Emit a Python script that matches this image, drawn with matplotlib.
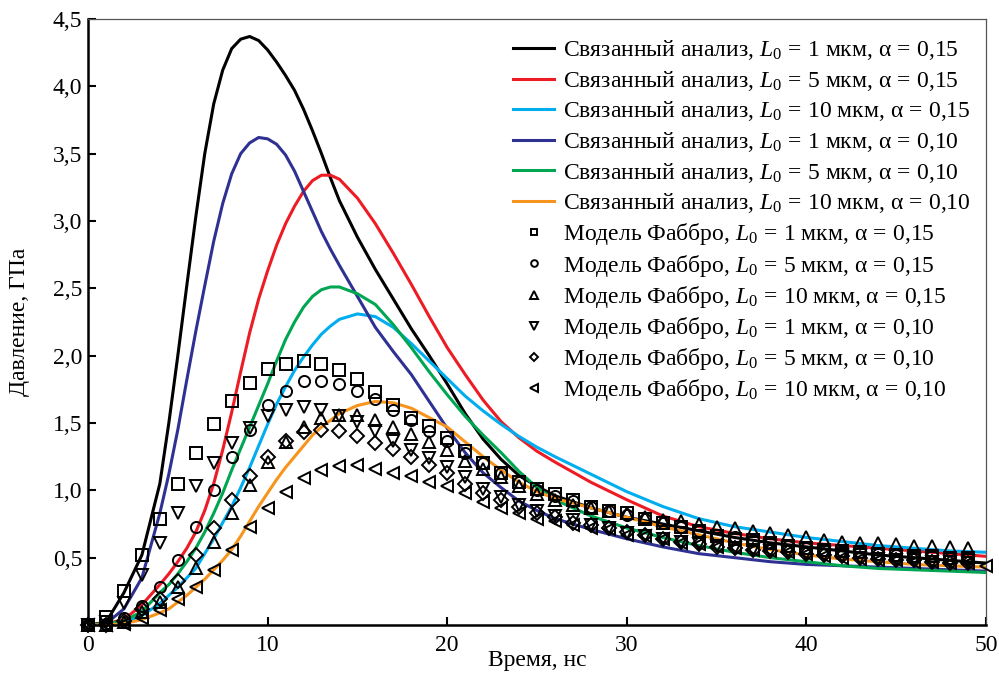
import numpy as np
import matplotlib
matplotlib.use("Agg")
import matplotlib.pyplot as plt
from matplotlib.ticker import FuncFormatter

plt.rcParams['font.family'] = ['Liberation Serif', 'DejaVu Serif']
plt.rcParams['mathtext.fontset'] = 'custom'
plt.rcParams['mathtext.rm'] = 'Liberation Serif'
plt.rcParams['mathtext.it'] = 'Liberation Serif:italic'

# Coupled analysis curves, time in ns
t_line = [0, 1, 2, 3, 4, 4.5, 5, 5.5, 6, 6.5, 7, 7.5, 8, 8.5, 9, 9.5, 10, 10.5,
          11, 11.5, 12, 12.5, 13, 13.5, 14, 15, 16, 17, 18, 19, 20, 21, 22, 23,
          24, 25, 26, 28, 30, 32, 34, 36, 38, 40, 42, 44, 46, 48, 50]

p_l1_a15 = [0, 0.02, 0.24, 0.52, 1.05, 1.50, 2.00, 2.52, 3.03, 3.50, 3.87, 4.12,
            4.28, 4.35, 4.37, 4.34, 4.27, 4.18, 4.08, 3.97, 3.83, 3.67, 3.50, 3.32,
            3.15, 2.88, 2.64, 2.42, 2.20, 2.00, 1.79, 1.57, 1.38, 1.23, 1.11, 1.03,
            0.96, 0.87, 0.80, 0.75, 0.70, 0.65, 0.61, 0.58, 0.55, 0.52, 0.50, 0.48, 0.46]
p_l5_a15 = [0, 0.01, 0.04, 0.15, 0.30, 0.38, 0.47, 0.57, 0.69, 0.85, 1.05, 1.30,
            1.58, 1.88, 2.17, 2.42, 2.63, 2.82, 2.98, 3.11, 3.22, 3.30, 3.34, 3.34,
            3.31, 3.17, 2.98, 2.76, 2.53, 2.29, 2.06, 1.86, 1.67, 1.51, 1.39, 1.29,
            1.21, 1.06, 0.93, 0.81, 0.73, 0.68, 0.64, 0.61, 0.59, 0.57, 0.55, 0.53, 0.51]
p_l10_a15 = [0, 0.00, 0.02, 0.07, 0.16, 0.22, 0.28, 0.35, 0.42, 0.53, 0.64, 0.76,
             0.88, 1.02, 1.17, 1.33, 1.49, 1.64, 1.77, 1.89, 1.99, 2.08, 2.16, 2.22,
             2.27, 2.31, 2.29, 2.21, 2.09, 1.96, 1.83, 1.70, 1.59, 1.49, 1.40, 1.32,
             1.25, 1.12, 0.99, 0.88, 0.79, 0.73, 0.69, 0.65, 0.62, 0.59, 0.57, 0.55, 0.54]
p_l1_a10 = [0, 0.01, 0.12, 0.35, 0.83, 1.12, 1.45, 1.82, 2.18, 2.52, 2.85, 3.13,
            3.35, 3.50, 3.58, 3.62, 3.61, 3.57, 3.49, 3.37, 3.22, 3.07, 2.92, 2.79,
            2.67, 2.44, 2.21, 2.03, 1.86, 1.66, 1.46, 1.28, 1.13, 1.02, 0.92, 0.85,
            0.79, 0.71, 0.64, 0.58, 0.53, 0.50, 0.47, 0.45, 0.44, 0.43, 0.42, 0.41, 0.40]
p_l5_a10 = [0, 0.01, 0.03, 0.10, 0.24, 0.30, 0.38, 0.47, 0.57, 0.69, 0.83, 0.98,
            1.15, 1.31, 1.47, 1.63, 1.79, 1.96, 2.12, 2.25, 2.36, 2.44, 2.49, 2.51,
            2.51, 2.46, 2.38, 2.23, 2.06, 1.88, 1.71, 1.55, 1.41, 1.28, 1.14, 1.02,
            0.93, 0.81, 0.72, 0.65, 0.59, 0.54, 0.50, 0.47, 0.44, 0.42, 0.41, 0.40, 0.39]
p_l10_a10 = [0, 0.00, 0.01, 0.04, 0.09, 0.12, 0.17, 0.22, 0.28, 0.34, 0.41, 0.48,
             0.56, 0.66, 0.77, 0.88, 0.98, 1.08, 1.17, 1.25, 1.33, 1.41, 1.47, 1.52,
             1.57, 1.63, 1.66, 1.65, 1.61, 1.54, 1.47, 1.36, 1.25, 1.15, 1.06, 0.99,
             0.94, 0.87, 0.80, 0.73, 0.67, 0.61, 0.56, 0.52, 0.49, 0.47, 0.45, 0.44, 0.43]

# Fabbro model points, one per ns
f_l1_a15 = [0, 0.06, 0.25, 0.52, 0.79, 1.05, 1.28, 1.49, 1.66, 1.80,
            1.90, 1.94, 1.96, 1.94, 1.89, 1.83, 1.73, 1.63, 1.54, 1.48,
            1.39, 1.29, 1.20, 1.13, 1.06, 1.01, 0.97, 0.93, 0.88, 0.85,
            0.83, 0.79, 0.76, 0.73, 0.70, 0.66, 0.64, 0.63, 0.61, 0.59,
            0.57, 0.56, 0.55, 0.54, 0.53, 0.52, 0.51, 0.51, 0.50, 0.50]
f_l5_a15 = [0, 0.01, 0.05, 0.14, 0.28, 0.48, 0.73, 1.00, 1.25, 1.45,
            1.63, 1.74, 1.81, 1.81, 1.79, 1.74, 1.68, 1.60, 1.52, 1.44,
            1.37, 1.28, 1.20, 1.13, 1.06, 1.00, 0.96, 0.92, 0.88, 0.85,
            0.82, 0.79, 0.76, 0.73, 0.70, 0.67, 0.65, 0.63, 0.61, 0.59,
            0.57, 0.56, 0.55, 0.54, 0.53, 0.52, 0.51, 0.51, 0.50, 0.50]
f_l10_a15 = [0, 0.00, 0.02, 0.10, 0.17, 0.28, 0.42, 0.62, 0.83, 1.04,
             1.21, 1.36, 1.47, 1.54, 1.56, 1.56, 1.52, 1.47, 1.42, 1.36,
             1.30, 1.22, 1.16, 1.10, 1.03, 0.97, 0.93, 0.89, 0.87, 0.85,
             0.83, 0.80, 0.78, 0.77, 0.75, 0.73, 0.72, 0.70, 0.68, 0.67,
             0.65, 0.63, 0.62, 0.61, 0.61, 0.60, 0.59, 0.59, 0.58, 0.57]
f_l1_a10 = [0, 0.02, 0.16, 0.37, 0.61, 0.83, 1.03, 1.20, 1.35, 1.46,
            1.55, 1.60, 1.62, 1.60, 1.55, 1.51, 1.44, 1.37, 1.30, 1.24,
            1.17, 1.10, 1.01, 0.95, 0.89, 0.85, 0.81, 0.78, 0.74, 0.72,
            0.68, 0.66, 0.64, 0.62, 0.60, 0.59, 0.57, 0.56, 0.55, 0.54,
            0.53, 0.52, 0.51, 0.50, 0.49, 0.48, 0.48, 0.47, 0.47, 0.46]
f_l5_a10 = [0, 0.00, 0.03, 0.12, 0.19, 0.33, 0.52, 0.72, 0.93, 1.11,
            1.25, 1.37, 1.43, 1.45, 1.44, 1.40, 1.35, 1.31, 1.25, 1.19,
            1.13, 1.05, 0.98, 0.93, 0.88, 0.83, 0.80, 0.76, 0.74, 0.72,
            0.69, 0.67, 0.64, 0.62, 0.60, 0.58, 0.57, 0.56, 0.55, 0.54,
            0.53, 0.52, 0.51, 0.50, 0.49, 0.48, 0.48, 0.47, 0.46, 0.46]
f_l10_a10 = [0, 0.00, 0.01, 0.05, 0.11, 0.19, 0.28, 0.41, 0.56, 0.73,
             0.87, 0.99, 1.09, 1.15, 1.18, 1.19, 1.16, 1.13, 1.11, 1.06,
             1.03, 0.98, 0.91, 0.87, 0.83, 0.79, 0.77, 0.74, 0.72, 0.71,
             0.67, 0.66, 0.64, 0.61, 0.60, 0.58, 0.57, 0.56, 0.55, 0.54,
             0.53, 0.51, 0.50, 0.49, 0.48, 0.48, 0.47, 0.47, 0.46, 0.46, 0.44]


def case(l0, a):
    return r'$L_0\,{=}\,%s$ мкм, $\mathrm{α}\,{=}\,0{,}%s$' % (l0, a)


lines = [
    (p_l1_a15, '#000000', 'Связанный анализ, ' + case(1, 15)),
    (p_l5_a15, '#ed1c24', 'Связанный анализ, ' + case(5, 15)),
    (p_l10_a15, '#00aeef', 'Связанный анализ, ' + case(10, 15)),
    (p_l1_a10, '#2e3192', 'Связанный анализ, ' + case(1, 10)),
    (p_l5_a10, '#00a651', 'Связанный анализ, ' + case(5, 10)),
    (p_l10_a10, '#f7941d', 'Связанный анализ, ' + case(10, 10)),
]
points = [
    (f_l1_a15, 's', 8, 'Модель Фаббро, ' + case(1, 15)),
    (f_l5_a15, 'o', 8, 'Модель Фаббро, ' + case(5, 15)),
    (f_l10_a15, '^', 9, 'Модель Фаббро, ' + case(10, 15)),
    (f_l1_a10, 'v', 9, 'Модель Фаббро, ' + case(1, 10)),
    (f_l5_a10, 'D', 7, 'Модель Фаббро, ' + case(5, 10)),
    (f_l10_a10, '<', 9, 'Модель Фаббро, ' + case(10, 10)),
]

fig = plt.figure(figsize=(9.99, 6.73), dpi=100)
ax = fig.add_axes([0.0881, 0.0713, 0.8989, 0.9005])

line_handles = []
for vals, color, label in lines:
    h, = ax.plot(t_line, vals, color=color, lw=2.2, label=label, zorder=2)
    line_handles.append(h)

point_handles = []
for vals, marker, ms, label in points:
    h, = ax.plot(np.arange(len(vals)), vals, ls='none', marker=marker, ms=ms,
                 mfc='none', mec='black', mew=1.4, label=label, clip_on=False, zorder=3)
    point_handles.append(h)

ax.set_xlim(0, 50)
ax.set_ylim(0, 4.5)
ax.set_xticks([0, 10, 20, 30, 40, 50])
ax.set_yticks([0.5, 1.0, 1.5, 2.0, 2.5, 3.0, 3.5, 4.0, 4.5])
ax.yaxis.set_major_formatter(FuncFormatter(lambda v, p: f'{v:.1f}'.replace('.', ',')))
ax.tick_params(direction='in', length=6, width=1.5, labelsize=17, pad=4)
ax.tick_params(axis='x', pad=7)

for side in ['left', 'bottom']:
    ax.spines[side].set_linewidth(1.8)
    ax.spines[side].set_color('black')
for side in ['top', 'right']:
    ax.spines[side].set_linewidth(0.9)
    ax.spines[side].set_color('#555555')

ax.set_xlabel('Время, нс', fontsize=17)
ax.set_ylabel('Давление, ГПа', fontsize=17)
ax.xaxis.set_label_coords(0.5, -0.041)
ax.yaxis.set_label_coords(-0.0646, 0.5)

leg_opts = dict(loc='upper left', bbox_transform=fig.transFigure, frameon=False,
                fontsize=17, handlelength=1.75, handletextpad=0.35, borderpad=0,
                borderaxespad=0, markerscale=0.6)
leg1 = ax.legend(handles=line_handles, bbox_to_anchor=(0.5135, 0.9432),
                 labelspacing=0.28, **leg_opts)
ax.add_artist(leg1)
ax.legend(handles=point_handles, bbox_to_anchor=(0.5135, 0.6709),
          labelspacing=0.22, **leg_opts)

fig.savefig('out.png', dpi=100)
